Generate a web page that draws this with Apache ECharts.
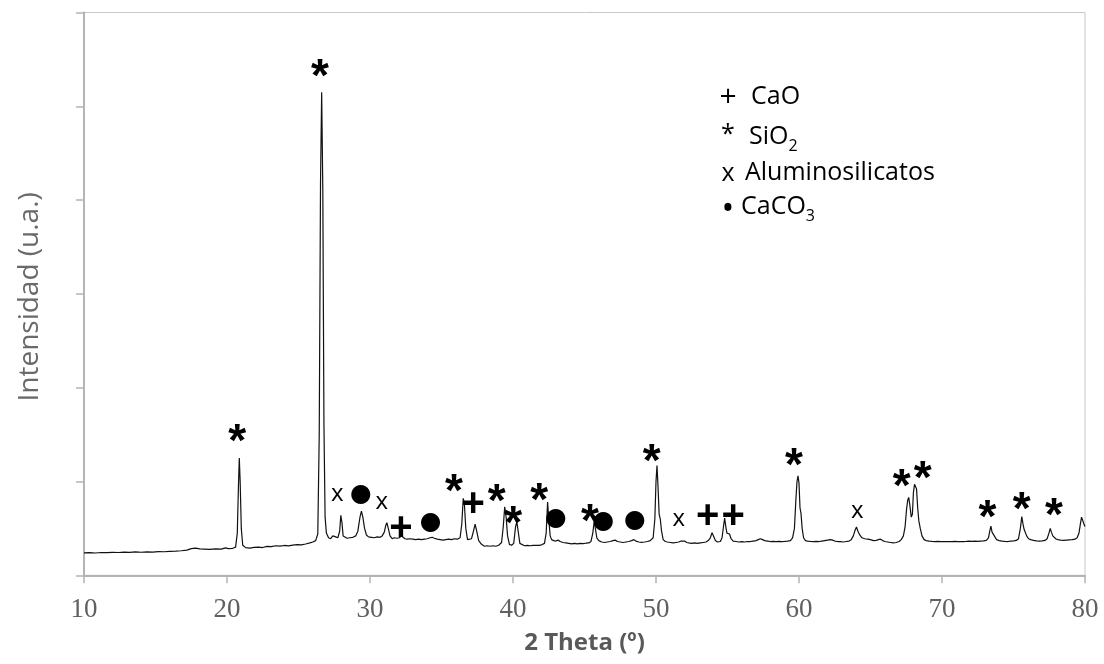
<!DOCTYPE html>
<html>
<head>
<meta charset="utf-8">
<title>Difractograma</title>
<script src="https://cdn.jsdelivr.net/npm/echarts@6/dist/echarts.min.js"></script>
<style>
  html, body { margin: 0; padding: 0; background: #fff; }
  #chart { width: 1104px; height: 664px; }
</style>
</head>
<body>
<div id="chart"></div>
<script>
// Diffraction pattern: 2θ (degrees) and intensity (arbitrary units)
const twoTheta = [
  10.0, 10.4, 10.8, 11.2, 11.6, 12.0, 12.4, 12.8, 13.2, 13.6, 14.0, 14.4, 14.8, 15.2, 15.6, 16.0, 16.4, 16.8, 17.2, 17.5,
  17.8, 18.1, 18.4, 18.8, 19.2, 19.6, 19.9, 20.1, 20.4, 20.6, 20.72, 20.8, 20.86, 20.92, 21.0, 21.1, 21.3, 21.6, 21.9, 22.2,
  22.5, 22.8, 23.1, 23.4, 23.7, 24.0, 24.3, 24.6, 24.9, 25.2, 25.5, 25.8, 26.0, 26.2, 26.35, 26.45, 26.54, 26.62, 26.7, 26.78,
  26.86, 26.95, 27.1, 27.25, 27.4, 27.5, 27.6, 27.75, 27.88, 27.96, 28.04, 28.12, 28.25, 28.4, 28.6, 28.8, 29.0, 29.15, 29.3, 29.4,
  29.5, 29.62, 29.75, 29.9, 30.1, 30.3, 30.5, 30.7, 30.85, 31.0, 31.1, 31.18, 31.28, 31.4, 31.55, 31.7, 31.9, 32.05, 32.2, 32.3,
  32.45, 32.6, 32.8, 33.0, 33.2, 33.4, 33.6, 33.8, 34.0, 34.2, 34.35, 34.5, 34.7, 34.9, 35.1, 35.3, 35.5, 35.7, 35.9, 36.1,
  36.3, 36.42, 36.52, 36.6, 36.7, 36.82, 36.95, 37.1, 37.25, 37.35, 37.45, 37.6, 37.8, 38.0, 38.2, 38.4, 38.6, 38.8, 39.0, 39.2,
  39.32, 39.42, 39.52, 39.62, 39.75, 39.9, 40.05, 40.18, 40.27, 40.36, 40.48, 40.6, 40.8, 41.0, 41.2, 41.4, 41.6, 41.8, 42.0, 42.2,
  42.32, 42.42, 42.5, 42.6, 42.7, 42.85, 43.0, 43.15, 43.3, 43.5, 43.7, 43.9, 44.1, 44.3, 44.5, 44.7, 44.9, 45.1, 45.3, 45.45,
  45.58, 45.68, 45.76, 45.86, 46.0, 46.2, 46.4, 46.6, 46.8, 47.0, 47.15, 47.3, 47.5, 47.7, 47.9, 48.1, 48.3, 48.45, 48.6, 48.8,
  49.0, 49.2, 49.4, 49.6, 49.8, 49.92, 50.0, 50.07, 50.14, 50.22, 50.3, 50.38, 50.5, 50.65, 50.8, 51.0, 51.2, 51.4, 51.6, 51.75,
  51.88, 52.0, 52.15, 52.3, 52.5, 52.7, 52.9, 53.1, 53.3, 53.5, 53.65, 53.8, 53.92, 54.02, 54.15, 54.3, 54.5, 54.62, 54.72, 54.8,
  54.88, 54.96, 55.05, 55.14, 55.25, 55.4, 55.6, 55.8, 56.0, 56.2, 56.4, 56.6, 56.8, 57.0, 57.15, 57.3, 57.45, 57.6, 57.8, 58.0,
  58.2, 58.4, 58.6, 58.8, 59.0, 59.2, 59.4, 59.55, 59.68, 59.78, 59.86, 59.93, 60.0, 60.07, 60.14, 60.22, 60.32, 60.45, 60.6, 60.8,
  61.0, 61.2, 61.4, 61.6, 61.8, 62.0, 62.2, 62.35, 62.5, 62.7, 62.9, 63.1, 63.3, 63.5, 63.65, 63.8, 63.92, 64.02, 64.12, 64.25,
  64.4, 64.6, 64.8, 65.0, 65.2, 65.4, 65.55, 65.7, 65.85, 66.0, 66.2, 66.4, 66.6, 66.8, 67.0, 67.15, 67.3, 67.42, 67.52, 67.6,
  67.67, 67.75, 67.85, 67.93, 68.0, 68.08, 68.15, 68.22, 68.3, 68.38, 68.48, 68.6, 68.75, 68.9, 69.1, 69.3, 69.5, 69.7, 69.9, 70.1,
  70.3, 70.5, 70.7, 70.9, 71.1, 71.3, 71.5, 71.7, 71.9, 72.1, 72.3, 72.5, 72.7, 72.9, 73.1, 73.25, 73.35, 73.42, 73.5, 73.6,
  73.7, 73.82, 74.0, 74.2, 74.4, 74.6, 74.8, 75.0, 75.2, 75.35, 75.48, 75.58, 75.66, 75.74, 75.82, 75.92, 76.05, 76.2, 76.4, 76.6,
  76.8, 77.0, 77.2, 77.35, 77.48, 77.57, 77.65, 77.75, 77.85, 77.95, 78.1, 78.3, 78.5, 78.7, 78.9, 79.1, 79.3, 79.45, 79.58, 79.68,
  79.76, 79.84, 79.92, 80.0
];
const intensity = [
  0.240, 0.242, 0.238, 0.243, 0.241, 0.245, 0.243, 0.247, 0.244, 0.249, 0.246, 0.250, 0.248, 0.253, 0.251, 0.256, 0.258, 0.262, 0.268, 0.285,
  0.290, 0.282, 0.280, 0.276, 0.281, 0.279, 0.292, 0.284, 0.288, 0.300, 0.45, 0.95, 1.25, 1.00, 0.50, 0.32, 0.295, 0.290, 0.298, 0.300,
  0.296, 0.308, 0.305, 0.315, 0.312, 0.318, 0.314, 0.322, 0.326, 0.324, 0.334, 0.345, 0.355, 0.37, 0.44, 1.5, 4.2, 5.15, 4.1, 1.6,
  0.62, 0.45, 0.40, 0.39, 0.42, 0.44, 0.41, 0.40, 0.47, 0.64, 0.56, 0.42, 0.40, 0.395, 0.40, 0.405, 0.42, 0.47, 0.62, 0.685,
  0.62, 0.50, 0.43, 0.41, 0.405, 0.40, 0.41, 0.405, 0.42, 0.46, 0.53, 0.56, 0.50, 0.42, 0.39, 0.40, 0.395, 0.40, 0.42, 0.41,
  0.39, 0.385, 0.39, 0.385, 0.38, 0.385, 0.38, 0.385, 0.39, 0.40, 0.405, 0.395, 0.385, 0.38, 0.375, 0.38, 0.385, 0.38, 0.39, 0.385,
  0.40, 0.55, 0.82, 0.76, 0.50, 0.38, 0.37, 0.39, 0.48, 0.545, 0.48, 0.37, 0.33, 0.31, 0.315, 0.31, 0.315, 0.31, 0.32, 0.35,
  0.52, 0.73, 0.62, 0.42, 0.33, 0.32, 0.34, 0.52, 0.57, 0.47, 0.34, 0.32, 0.315, 0.32, 0.315, 0.32, 0.318, 0.32, 0.325, 0.34,
  0.45, 0.78, 0.60, 0.42, 0.38, 0.37, 0.365, 0.375, 0.36, 0.35, 0.345, 0.34, 0.335, 0.34, 0.335, 0.34, 0.338, 0.342, 0.345, 0.36,
  0.45, 0.58, 0.50, 0.40, 0.37, 0.355, 0.35, 0.355, 0.36, 0.37, 0.375, 0.36, 0.355, 0.35, 0.355, 0.36, 0.37, 0.38, 0.365, 0.355,
  0.352, 0.355, 0.36, 0.37, 0.40, 0.60, 1.00, 1.17, 0.95, 0.65, 0.60, 0.48, 0.38, 0.36, 0.355, 0.35, 0.345, 0.35, 0.355, 0.365,
  0.38, 0.365, 0.35, 0.345, 0.34, 0.345, 0.34, 0.345, 0.35, 0.355, 0.37, 0.40, 0.455, 0.42, 0.37, 0.355, 0.36, 0.40, 0.52, 0.61,
  0.52, 0.45, 0.47, 0.44, 0.39, 0.365, 0.36, 0.355, 0.358, 0.355, 0.36, 0.36, 0.365, 0.37, 0.38, 0.39, 0.38, 0.37, 0.365, 0.36,
  0.362, 0.36, 0.362, 0.36, 0.362, 0.365, 0.37, 0.40, 0.50, 0.80, 1.00, 1.06, 0.98, 0.72, 0.66, 0.50, 0.40, 0.37, 0.365, 0.362,
  0.36, 0.362, 0.36, 0.365, 0.37, 0.375, 0.38, 0.375, 0.365, 0.36, 0.358, 0.355, 0.36, 0.365, 0.38, 0.42, 0.48, 0.515, 0.47, 0.43,
  0.40, 0.39, 0.385, 0.38, 0.37, 0.372, 0.38, 0.385, 0.37, 0.36, 0.355, 0.35, 0.345, 0.35, 0.36, 0.38, 0.42, 0.52, 0.70, 0.80,
  0.83, 0.75, 0.62, 0.65, 0.88, 0.97, 0.99, 0.92, 0.72, 0.58, 0.50, 0.42, 0.38, 0.37, 0.365, 0.362, 0.36, 0.362, 0.36, 0.358,
  0.36, 0.358, 0.36, 0.362, 0.36, 0.358, 0.36, 0.362, 0.365, 0.362, 0.365, 0.362, 0.365, 0.368, 0.372, 0.40, 0.48, 0.525, 0.46, 0.44,
  0.41, 0.38, 0.37, 0.365, 0.362, 0.36, 0.365, 0.368, 0.372, 0.39, 0.50, 0.625, 0.55, 0.49, 0.47, 0.42, 0.39, 0.38, 0.372, 0.368,
  0.365, 0.368, 0.372, 0.39, 0.45, 0.50, 0.46, 0.42, 0.41, 0.39, 0.38, 0.375, 0.372, 0.375, 0.378, 0.38, 0.385, 0.40, 0.45, 0.55,
  0.62, 0.60, 0.55, 0.52
];

// Phase markers placed above their peaks: [2θ, height]
const sio2Peaks = [
  [20.72, 1.51], [26.5, 5.40], [35.87, 0.98], [38.86, 0.87], [40.02, 0.64], [41.84, 0.89], [45.38, 0.66],
  [49.7, 1.30], [59.65, 1.26], [67.18, 1.03], [68.65, 1.12], [73.17, 0.70], [75.57, 0.785], [77.83, 0.73]
];
const caoPeaks = [[32.17, 0.52], [37.22, 0.77], [53.62, 0.64], [55.4, 0.64]];
const aluminoPeaks = [[27.71, 0.84], [30.82, 0.76], [51.6, 0.58], [64.08, 0.66]];
const caco3Peaks = [[29.37, 0.86], [34.24, 0.565], [43.0, 0.61], [46.32, 0.57], [48.53, 0.58]];

// Key entries
const keySymbols = ['+', '*', 'x', '\u2022'];
const keyNames = ['CaO', 'SiO', 'Aluminosilicatos', 'CaCO'];
const keySubscripts = ['', '2', '', '3'];

// Axis ticks and titles
const xTicks = [10, 20, 30, 40, 50, 60, 70, 80];
const xTitle = '2 Theta (\u00BA)';
const yTitle = 'Intensidad (u.a.)';

const axisGray = '#b4b4b4';
const textGray = '#606060';

const chart = echarts.init(document.getElementById('chart'), null, { renderer: 'canvas' });

function markerSeries(points, glyph, labelStyle) {
  return {
    type: 'scatter',
    data: points,
    symbolSize: 1,
    itemStyle: { color: 'rgba(0,0,0,0)' },
    silent: true,
    z: 5,
    label: Object.assign({
      show: true,
      position: 'inside',
      formatter: glyph,
      color: '#000000',
      opacity: 1,
      textBorderWidth: 0
    }, labelStyle),
    emphasis: { disabled: true }
  };
}

// Key block: symbol column, then names with optional subscripts
const keySymbolY = [97, 135, 174, 210];
const keySymbolFont = ['30px "Open Sans"', '25px "Open Sans"', '25px "Open Sans"', '34px "Open Sans"'];
const keyRowsY = [97, 137, 173, 207];
const keyNameX = [751, 749, 745, 741];
const keyGraphics = [];
keySymbols.forEach((sym, i) => {
  keyGraphics.push({
    type: 'text',
    style: {
      text: sym, x: 728, y: keySymbolY[i],
      align: 'center', verticalAlign: 'middle',
      font: keySymbolFont[i], fill: '#000'
    }
  });
  const sub = keySubscripts[i];
  keyGraphics.push({
    type: 'text',
    left: keyNameX[i],
    top: keyRowsY[i] - 17,
    style: {
      text: sub ? keyNames[i] + '{s|' + sub + '}' : keyNames[i],
      font: '25px "Open Sans"',
      fill: '#000',
      lineHeight: 34,
      rich: {
        s: { fontSize: 16, fontFamily: 'Open Sans', lineHeight: 16, verticalAlign: 'bottom', fill: '#000' }
      }
    }
  });
});

const option = {
  animation: false,
  backgroundColor: '#ffffff',
  grid: {
    left: 84, right: 19, top: 12.5, bottom: 88.7,
    show: true, borderColor: '#c8c8c8', borderWidth: 1, backgroundColor: 'transparent'
  },
  xAxis: {
    type: 'value',
    min: 10, max: 80, interval: 10,
    name: xTitle,
    nameLocation: 'middle',
    nameGap: 56,
    nameTextStyle: { fontFamily: 'Open Sans', fontWeight: 'bold', fontSize: 24, color: '#595959' },
    axisLine: { show: true, onZero: false, lineStyle: { color: axisGray, width: 2 } },
    axisTick: { show: true, inside: false, length: 8, lineStyle: { color: axisGray, width: 1.5 } },
    axisLabel: {
      margin: 21,
      fontFamily: 'Liberation Serif', fontSize: 27, color: textGray,
      formatter: v => (xTicks.indexOf(v) >= 0 ? String(v) : '')
    },
    splitLine: { show: false }
  },
  yAxis: {
    type: 'value',
    min: 0, max: 6, interval: 1,
    name: yTitle,
    nameLocation: 'middle',
    nameGap: 40,
    nameTextStyle: { fontFamily: 'Open Sans', fontSize: 28, color: '#6a6a6a', padding: [0, 6, 0, 0] },
    axisLine: { show: true, lineStyle: { color: axisGray, width: 2 } },
    axisTick: { show: true, inside: false, length: 8, lineStyle: { color: axisGray, width: 1.5 } },
    axisLabel: { show: false },
    splitLine: { show: false }
  },
  graphic: keyGraphics,
  series: [
    {
      type: 'line',
      data: twoTheta.map((t, i) => [t, intensity[i]]),
      showSymbol: false,
      smooth: false,
      lineStyle: { color: '#111', width: 1.2 },
      silent: true,
      z: 3
    },
    markerSeries(sio2Peaks, '*', { fontFamily: 'Liberation Sans', fontWeight: 'bold', fontSize: 46, offset: [0, 10] }),
    markerSeries(caoPeaks, '+', { fontFamily: 'Liberation Sans', fontWeight: 'bold', fontSize: 40, offset: [0, 2] }),
    markerSeries(aluminoPeaks, 'x', { fontFamily: 'Open Sans', fontSize: 24, offset: [0, -2] }),
    markerSeries(caco3Peaks, '\u25CF', { fontFamily: 'DejaVu Sans', fontSize: 25, offset: [0, 0] })
  ]
};

chart.setOption(option);
</script>
</body>
</html>
